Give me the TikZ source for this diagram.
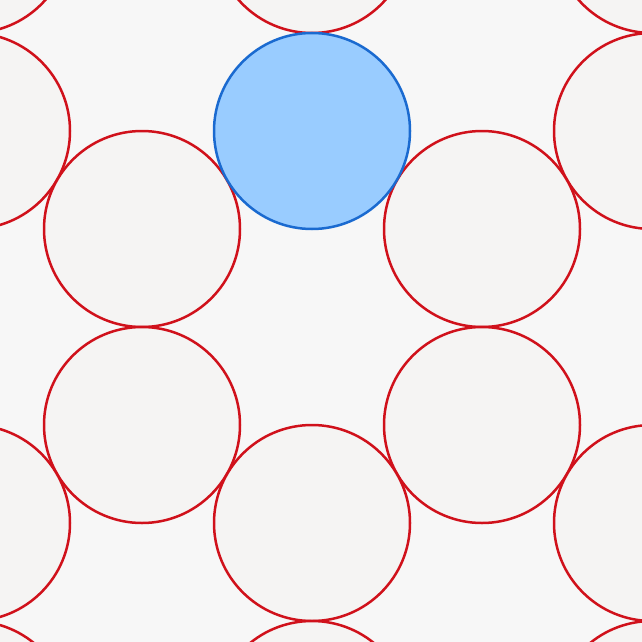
\documentclass[tikz,border=0pt]{standalone}
\definecolor{bgc}{HTML}{F7F7F7}
\definecolor{cfill}{HTML}{F5F4F3}
\definecolor{cred}{HTML}{D0111B}
\definecolor{bfill}{HTML}{99CCFF}
\definecolor{bline}{HTML}{1A6AD0}
\begin{document}
\begin{tikzpicture}[x=1pt,y=-1pt,
  disc/.style={circle,draw=cred,fill=cfill,line width=2.5pt,minimum size=196pt,inner sep=0pt},
  bluedisc/.style={circle,draw=bline,fill=bfill,line width=2.5pt,minimum size=196pt,inner sep=0pt}]
\fill[bgc] (0,0) rectangle (642,642);
\begin{scope}
\clip (0,0) rectangle (642,642);
\node[disc] (c1) at (-28,-65) {};
\node[disc] (c2) at (312,-65) {};
\node[disc] (c3) at (652,-65) {};
\node[disc] (c4) at (-28,131) {};
\node[disc] (c5) at (652,131) {};
\node[disc] (c6) at (142,229) {};
\node[disc] (c7) at (482,229) {};
\node[disc] (c8) at (142,425) {};
\node[disc] (c9) at (482,425) {};
\node[disc] (c10) at (-28,523) {};
\node[disc] (c11) at (312,523) {};
\node[disc] (c12) at (652,523) {};
\node[disc] (c13) at (-28,719) {};
\node[disc] (c14) at (312,719) {};
\node[disc] (c15) at (652,719) {};
\node[bluedisc] (b) at (312,131) {};
\end{scope}
\useasboundingbox (0,0) rectangle (642,642);
\end{tikzpicture}
\end{document}
